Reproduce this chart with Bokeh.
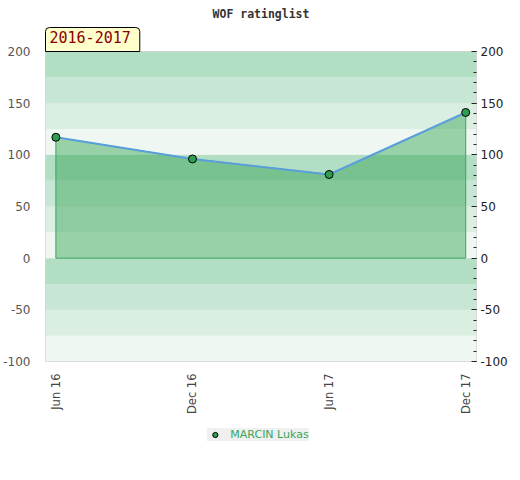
import math
from bokeh.plotting import figure
from bokeh.layouts import column
from bokeh.models import (Range1d, LinearAxis, SingleIntervalTicker, FixedTicker,
                          BoxAnnotation, Title, Legend, LegendItem)
from bokeh.embed import file_html
from bokeh.resources import INLINE

# ---- data ----
categories = ["Jun 16", "Dec 16", "Jun 17", "Dec 17"]
ratings = [117, 96, 81, 141]
player = "MARCIN Lukas"
season = "2016-2017"
chart_title = "WOF ratinglist"
y_tick_values = [-100, -50, 0, 50, 100, 150, 200]
y_tick_labels = ["-100", "-50", "0", "50", "100", "150", "200"]

# ---- style ----
band_colors = ["#b2dec4", "#c8e6d5", "#dbeee2", "#eff7f2"]
fill_green = "#37a455"
edge_green = "#3aa65a"
line_blue = "#5a9fdc"
marker_green = "#2e9e50"

xs = list(range(len(categories)))
x0, x1 = -0.076, 3.079
y0, y1 = -100, 200

p = figure(frame_width=431, frame_height=310, output_backend="svg", toolbar_location=None,
           x_range=Range1d(x0, x1), y_range=Range1d(y0, y1),
           min_border_left=0, min_border_right=0, min_border_top=0, min_border_bottom=0,
           outline_line_color="#d6d6d6", outline_line_width=1,
           background_fill_color="white", border_fill_color="white")

p.title.text = chart_title
p.title.align = "center"
p.title.text_font = "DejaVu Sans Mono"
p.title.text_font_style = "bold"
p.title.text_font_size = "11.5px"
p.title.text_color = "#333333"
p.title.standoff = 9

p.xgrid.visible = False
p.ygrid.grid_line_color = "#d8d8d8"
p.ygrid.grid_line_alpha = 0.5
p.ygrid.ticker = FixedTicker(ticks=y_tick_values)

# background bands
for lo in range(y0, y1, 25):
    top = lo + 25
    idx = ((y1 - top) // 25) % 4
    p.add_layout(BoxAnnotation(bottom=lo, top=top, fill_color=band_colors[idx], fill_alpha=1,
                               line_alpha=0, level="underlay"))

# area
p.patch(x=[xs[0]] + xs + [xs[-1]], y=[0] + ratings + [0], fill_color=fill_green,
        fill_alpha=0.47, line_color=edge_green, line_width=1)
p.line(xs, ratings, line_color=line_blue, line_width=2)
p.scatter(xs, ratings, size=8, fill_color=marker_green, line_color="black", line_width=1)

ylabels = {v: t for v, t in zip(y_tick_values, y_tick_labels)}

# axes
ya = p.yaxis[0]
ya.ticker = FixedTicker(ticks=y_tick_values)
ya.major_label_overrides = ylabels
ya.axis_line_color = None
ya.major_tick_line_color = None
ya.minor_tick_line_color = None
ya.major_label_standoff = 9
ya.major_label_text_font = "DejaVu Sans"
ya.major_label_text_font_size = "12px"
ya.major_label_text_color = "#555555"

ra = LinearAxis(ticker=SingleIntervalTicker(interval=50, num_minor_ticks=5))
ra.major_label_overrides = ylabels
ra.axis_line_color = None
ra.major_tick_in = 5
ra.major_tick_out = 0
ra.minor_tick_in = 3
ra.minor_tick_out = 0
ra.major_tick_line_color = "#222222"
ra.minor_tick_line_color = "#222222"
ra.major_label_standoff = 4
ra.major_label_text_font = "DejaVu Sans"
ra.major_label_text_font_size = "12px"
ra.major_label_text_color = "#222222"
p.add_layout(ra, "right")

xa = p.xaxis[0]
xa.ticker = FixedTicker(ticks=xs)
xa.major_label_overrides = {i: c for i, c in zip(xs, categories)}
xa.major_label_orientation = math.pi / 2
xa.axis_line_color = None
xa.major_tick_line_color = None
xa.minor_tick_line_color = None
xa.major_label_standoff = 6
xa.major_label_text_font = "DejaVu Sans"
xa.major_label_text_font_size = "11.5px"
xa.major_label_text_color = "#444444"

# season tag
p.add_layout(Title(text=season, align="left", text_font="DejaVu Sans Mono", text_font_size="15px",
                   text_font_style="normal", text_color="#8b0000",
                   background_fill_color="#ffffcc", background_fill_alpha=1,
                   border_line_color="black", border_line_width=1,
                   padding=(4, 9, 3, 9), border_radius=(4, 4, 0, 0), standoff=0, offset=0), "above")

# legend strip below the chart (series drawn out of view, only its legend entry shows)
q = figure(width=504, height=66, output_backend="svg", toolbar_location=None,
           x_range=Range1d(x0, x1), y_range=Range1d(1000, 1001), x_axis_location=None,
           y_axis_location=None, min_border=0, outline_line_color=None,
           background_fill_color="white", border_fill_color="white")
q.grid.visible = False
proxy = q.scatter(xs, ratings, size=8, fill_color=marker_green, line_color="black", line_width=1)
legend = Legend(items=[LegendItem(label=player, renderers=[proxy])], location="top_center",
                orientation="horizontal", background_fill_color="#f0f0f0", background_fill_alpha=1,
                border_line_color=None, label_text_color=edge_green, label_text_font="DejaVu Sans",
                label_text_font_size="11px", glyph_width=16, glyph_height=13, label_standoff=8,
                padding=3, margin=11)
q.add_layout(legend)

layout = column(p, q, spacing=0)
open("out.html", "w").write(file_html(layout, INLINE))
